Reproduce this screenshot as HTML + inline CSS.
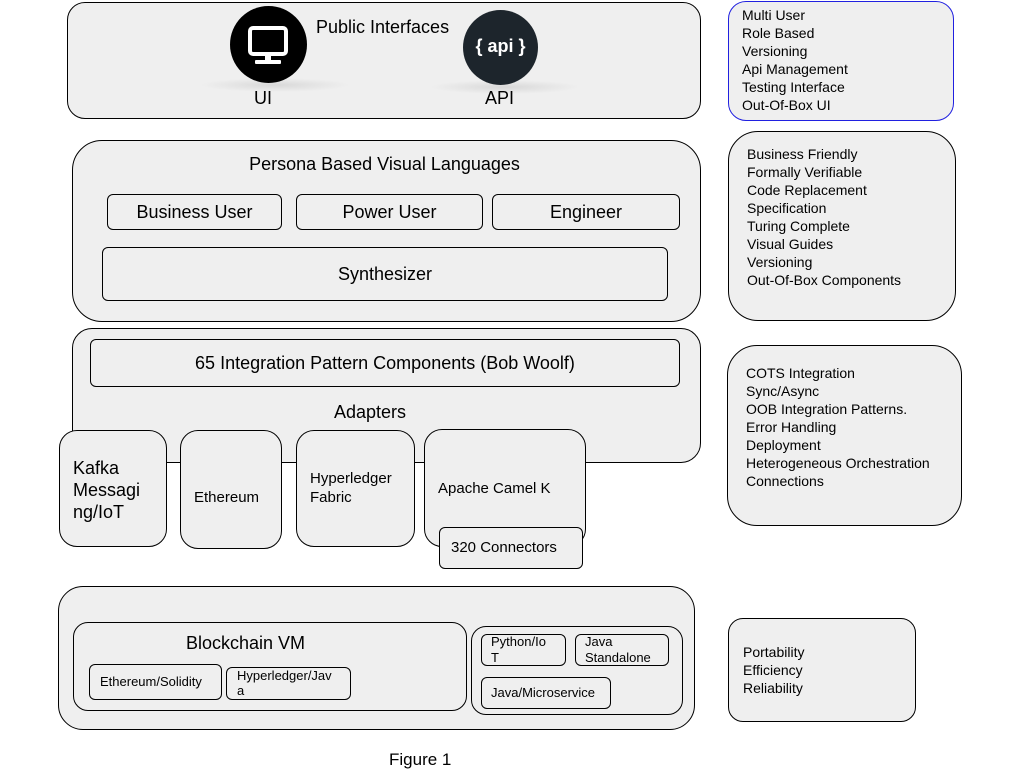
<!DOCTYPE html>
<html><head><style>
body{margin:0;width:1024px;height:768px;background:#fff;position:relative;font-family:"Liberation Sans",sans-serif;color:#000;overflow:hidden}
.b{position:absolute;box-sizing:border-box;border:1px solid #000;background:#efefef}
.t{position:absolute;white-space:nowrap}
.l{position:absolute;font-size:14px;line-height:18px;white-space:pre}
</style></head><body>
<!-- top -->
<div class="b" style="left:67px;top:2px;width:634px;height:117px;border-radius:18px"></div>
<div style="position:absolute;left:200px;top:78px;width:150px;height:14px;border-radius:50%;background:radial-gradient(ellipse,#d8d8d8,rgba(239,239,239,0) 70%)"></div>
<div style="position:absolute;left:430px;top:80px;width:150px;height:14px;border-radius:50%;background:radial-gradient(ellipse,#d8d8d8,rgba(239,239,239,0) 70%)"></div>
<div style="position:absolute;left:230px;top:6px;width:77px;height:77px;border-radius:50%;background:#000"></div>
<svg style="position:absolute;left:230px;top:6px" width="77" height="77"><rect x="20" y="22" width="36" height="26" rx="3" fill="none" stroke="#fff" stroke-width="4"/><rect x="35" y="49" width="6" height="6" fill="#fff"/><rect x="25" y="54" width="26" height="4" rx="1" fill="#fff"/></svg>
<div style="position:absolute;left:463px;top:10px;width:75px;height:75px;border-radius:50%;background:#1d252c"></div>
<div class="t" style="left:463px;top:36px;width:75px;text-align:center;color:#fff;font-size:18px;font-weight:bold">{ api }</div>
<div class="t" style="left:316px;top:17px;font-size:18px">Public Interfaces</div>
<div class="t" style="left:254px;top:88px;font-size:18px">UI</div>
<div class="t" style="left:485px;top:88px;font-size:18px">API</div>

<div class="b" style="left:728px;top:1px;width:226px;height:120px;border-radius:18px;border-color:#2020e0"></div>
<div class="l" style="left:742px;top:6px">Multi User
Role Based
Versioning
Api Management
Testing Interface
Out-Of-Box UI</div>

<!-- persona -->
<div class="b" style="left:72px;top:140px;width:629px;height:182px;border-radius:30px"></div>
<div class="t" style="left:72px;top:154px;width:629px;text-align:center;font-size:18px;padding-right:4px;box-sizing:border-box">Persona Based Visual Languages</div>
<div class="b" style="left:107px;top:194px;width:175px;height:36px;border-radius:6px"></div>
<div class="t" style="left:107px;top:202px;width:175px;text-align:center;font-size:18px">Business User</div>
<div class="b" style="left:296px;top:194px;width:187px;height:36px;border-radius:6px"></div>
<div class="t" style="left:296px;top:202px;width:187px;text-align:center;font-size:18px">Power User</div>
<div class="b" style="left:492px;top:194px;width:188px;height:36px;border-radius:6px"></div>
<div class="t" style="left:492px;top:202px;width:188px;text-align:center;font-size:18px">Engineer</div>
<div class="b" style="left:102px;top:247px;width:566px;height:54px;border-radius:6px"></div>
<div class="t" style="left:102px;top:264px;width:566px;text-align:center;font-size:18px">Synthesizer</div>

<div class="b" style="left:728px;top:131px;width:228px;height:190px;border-radius:30px"></div>
<div class="l" style="left:747px;top:145px">Business Friendly
Formally Verifiable
Code Replacement
Specification
Turing Complete
Visual Guides
Versioning
Out-Of-Box Components</div>

<!-- integration -->
<div class="b" style="left:72px;top:328px;width:629px;height:135px;border-radius:20px"></div>
<div class="b" style="left:90px;top:339px;width:590px;height:48px;border-radius:6px"></div>
<div class="t" style="left:90px;top:353px;width:590px;text-align:center;font-size:18px">65 Integration Pattern Components (Bob Woolf)</div>
<div class="t" style="left:334px;top:402px;font-size:18px">Adapters</div>

<div class="b" style="left:59px;top:430px;width:108px;height:117px;border-radius:18px"></div>
<div class="t" style="left:73px;top:457px;font-size:18px;line-height:22px;white-space:pre">Kafka
Messagi
ng/IoT</div>
<div class="b" style="left:180px;top:430px;width:102px;height:119px;border-radius:18px"></div>
<div class="t" style="left:194px;top:489px;font-size:15px">Ethereum</div>
<div class="b" style="left:296px;top:430px;width:119px;height:117px;border-radius:18px"></div>
<div class="t" style="left:310px;top:469px;font-size:15px;line-height:19px;white-space:pre">Hyperledger
Fabric</div>
<div class="b" style="left:424px;top:429px;width:162px;height:118px;border-radius:18px"></div>
<div class="t" style="left:438px;top:480px;font-size:15px">Apache Camel K</div>
<div class="b" style="left:439px;top:527px;width:144px;height:42px;border-radius:6px"></div>
<div class="t" style="left:451px;top:539px;font-size:15px">320 Connectors</div>

<div class="b" style="left:727px;top:345px;width:235px;height:181px;border-radius:30px"></div>
<div class="l" style="left:746px;top:364px">COTS Integration
Sync/Async
OOB Integration Patterns.
Error Handling
Deployment
Heterogeneous Orchestration
Connections</div>

<!-- bottom -->
<div class="b" style="left:58px;top:586px;width:637px;height:144px;border-radius:25px"></div>
<div class="b" style="left:73px;top:622px;width:394px;height:89px;border-radius:15px"></div>
<div class="t" style="left:186px;top:633px;font-size:18px">Blockchain VM</div>
<div class="b" style="left:89px;top:664px;width:133px;height:36px;border-radius:6px"></div>
<div class="t" style="left:100px;top:674px;font-size:13px">Ethereum/Solidity</div>
<div class="b" style="left:226px;top:667px;width:125px;height:33px;border-radius:6px"></div>
<div class="t" style="left:237px;top:668px;font-size:13px;line-height:15px;white-space:pre">Hyperledger/Jav
a</div>
<div class="b" style="left:471px;top:626px;width:212px;height:89px;border-radius:15px"></div>
<div class="b" style="left:481px;top:634px;width:85px;height:32px;border-radius:6px"></div>
<div class="t" style="left:491px;top:634px;font-size:13px;line-height:16px;white-space:pre">Python/Io
T</div>
<div class="b" style="left:575px;top:634px;width:94px;height:32px;border-radius:6px"></div>
<div class="t" style="left:585px;top:634px;font-size:13px;line-height:16px;white-space:pre">Java
Standalone</div>
<div class="b" style="left:481px;top:677px;width:130px;height:32px;border-radius:6px"></div>
<div class="t" style="left:491px;top:685px;font-size:13px">Java/Microservice</div>

<div class="b" style="left:728px;top:618px;width:188px;height:104px;border-radius:15px"></div>
<div class="l" style="left:743px;top:643px">Portability
Efficiency
Reliability</div>

<div class="t" style="left:389px;top:750px;font-size:17px">Figure 1</div>
</body></html>
